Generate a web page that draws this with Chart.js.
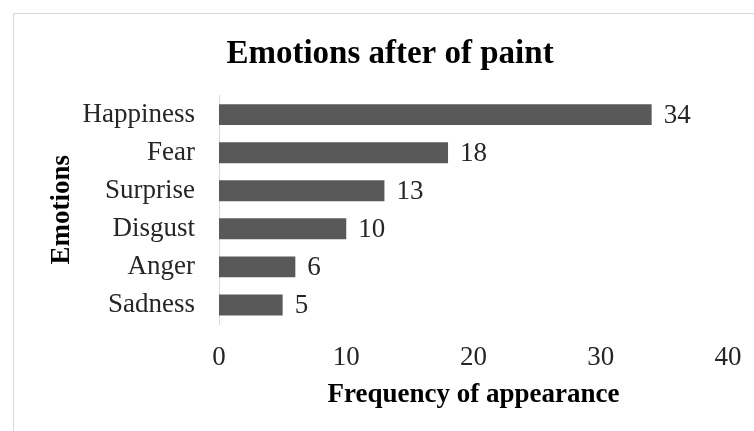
<!DOCTYPE html>
<html>
<head>
<meta charset="utf-8">
<script src="https://cdn.jsdelivr.net/npm/chart.js@4/dist/chart.umd.min.js"></script>
<style>
  html, body { margin: 0; padding: 0; background: #fff; overflow: hidden; }
  #wrap { width: 754px; height: 431px; position: relative; }
</style>
</head>
<body>
<div id="wrap"><canvas id="grafico"></canvas></div>
<script>
const emotions = ["Happiness", "Fear", "Surprise", "Disgust", "Anger", "Sadness"];
const frequency = [34, 18, 13, 10, 6, 5];
const xTicks = [0, 10, 20, 30, 40];

const fontFam = "'Liberation Serif', 'Times New Roman', serif";

// marco gris claro del grafico + titulo corrido un poco a la derecha
const marco = {
  id: "marco",
  afterLayout(chart) {
    if (chart.titleBlock) {
      chart.titleBlock.left += 26;
      chart.titleBlock.right += 26;
    }
  },
  beforeDraw(chart) {
    const ctx = chart.ctx;
    ctx.save();
    ctx.strokeStyle = "#d9d9d9";
    ctx.lineWidth = 1;
    ctx.strokeRect(13.5, 13.5, 900, 900);
    ctx.restore();
  },
};

// etiquetas de valor al final de cada barra
const etiquetas = {
  id: "etiquetas",
  afterDatasetsDraw(chart) {
    const ctx = chart.ctx;
    const meta = chart.getDatasetMeta(0);
    ctx.save();
    ctx.font = "27px " + fontFam;
    ctx.fillStyle = "#262626";
    ctx.textAlign = "left";
    ctx.textBaseline = "middle";
    meta.data.forEach((bar, i) => {
      ctx.fillText(String(frequency[i]), bar.x + 12, bar.y + 1);
    });
    ctx.restore();
  },
};

let canva = document.getElementById("grafico").getContext("2d");
let chart = new Chart(canva, {
  type: "bar",
  data: {
    labels: emotions,
    datasets: [
      {
        data: frequency,
        backgroundColor: "#595959",
        borderWidth: 0,
        barPercentage: 0.55,
        categoryPercentage: 1,
      },
    ],
  },
  options: {
    indexAxis: "y",
    responsive: true,
    maintainAspectRatio: false,
    animation: false,
    layout: { padding: { top: 0, right: 26, bottom: 0, left: 0 } },
    plugins: {
      legend: { display: false },
      tooltip: { enabled: false },
      title: {
        display: true,
        text: "Emotions after of paint",
        color: "#000",
        font: { family: fontFam, size: 33, weight: "bold" },
        padding: { top: 35, bottom: 21 },
      },
    },
    scales: {
      x: {
        min: 0,
        max: 40,
        afterBuildTicks: (scale) => {
          scale.ticks = xTicks.map((v) => ({ value: v }));
        },
        afterFit: (scale) => {
          scale.height = 107;
          scale.paddingRight = 0;
          scale.paddingLeft = 0;
        },
        grid: { display: false, drawTicks: false },
        border: { display: false },
        ticks: {
          color: "#262626",
          padding: 18,
          font: { family: fontFam, size: 27 },
        },
        title: {
          display: true,
          text: "Frequency of appearance",
          color: "#000",
          font: { family: fontFam, size: 27, weight: "bold" },
          padding: { top: 0, bottom: 20 },
        },
      },
      y: {
        afterFit: (scale) => {
          scale.width = 219;
        },
        grid: { display: false, drawTicks: false },
        border: { display: true, color: "#d9d9d9", width: 1 },
        ticks: {
          color: "#262626",
          padding: 24,
          font: { family: fontFam, size: 27 },
        },
        title: {
          display: true,
          text: "Emotions",
          color: "#000",
          font: { family: fontFam, size: 27, weight: "bold" },
          padding: { top: 46, bottom: 0 },
        },
      },
    },
  },
  plugins: [marco, etiquetas],
});
</script>
</body>
</html>
